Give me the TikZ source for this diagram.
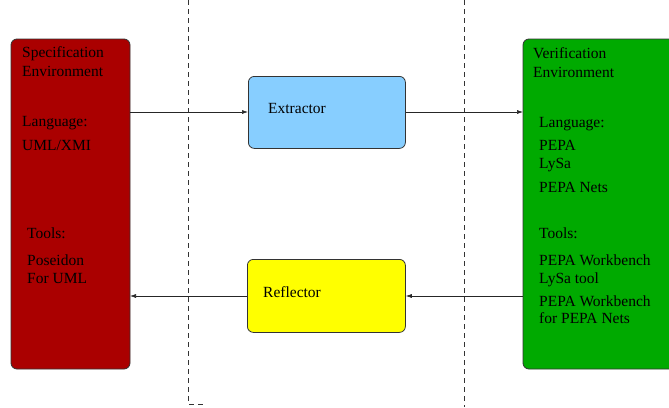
\documentclass[tikz,border=0pt]{standalone}
\usepackage{fontspec}
\setmainfont{Liberation Serif}
\usetikzlibrary{arrows.meta}
\definecolor{specred}{HTML}{AA0000}
\definecolor{vergreen}{HTML}{00AA00}
\definecolor{extblue}{HTML}{87CEFF}
\definecolor{refyel}{HTML}{FFFF00}
\begin{document}
\begin{tikzpicture}[x=1pt,y=-1pt,
  boxstyle/.style={draw=black!80, line width=0.8pt, rounded corners=6pt},
  lbl/.style={anchor=base west, inner sep=0pt, font=\fontsize{15.5}{18}\selectfont},
  sep/.style={draw=black!80, line width=0.6pt, dash pattern=on 5pt off 4pt},
  conn/.style={draw=black!85, line width=0.6pt, -{Latex[length=6pt,width=4pt]}}]
\useasboundingbox (0,0) rectangle (669,407);
% separators
\draw[sep] (188,0) -- (188,404) -- (204,404);
\draw[sep] (464,0) -- (464,407);
% boxes
\path[boxstyle, fill=specred] (11,39) rectangle (130,369);
\path[boxstyle, fill=vergreen] (523,39) rectangle (680,369);
\node[boxstyle, fill=extblue, minimum width=157pt, minimum height=72pt, anchor=north west, inner sep=0pt] (ext) at (248,76) {};
\node[boxstyle, fill=refyel, minimum width=158pt, minimum height=73pt, anchor=north west, inner sep=0pt] (ref) at (247,259) {};
\coordinate (specA) at (130,112);
\coordinate (specB) at (130,296);
\coordinate (verA) at (523,112);
\coordinate (verB) at (523,296);
% connectors
\draw[conn] (specA) -- (ext.west |- specA);
\draw[conn] (ext.east |- verA) -- (verA);
\draw[conn] (verB) -- (ref.east |- verB);
\draw[conn] (ref.west |- specB) -- (specB);
% labels
\node[lbl] (t1) at (268,113) {Extractor};
\node[lbl] (t2) at (263,297) {Reflector};
\node[lbl] (l1) at (22,57) {Specification};
\node[lbl] (l2) at (22,76) {Environment};
\node[lbl] (l3) at (22,126) {Language:};
\node[lbl] (l4) at (22,150) {UML/XMI};
\node[lbl] (l5) at (27,238) {Tools:};
\node[lbl] (l6) at (27,265) {Poseidon};
\node[lbl] (l7) at (27,283) {For UML};
\node[lbl] (r1) at (533,58) {Verification};
\node[lbl] (r2) at (533,77) {Environment};
\node[lbl] (r3) at (539,127) {Language:};
\node[lbl] (r4) at (539,150) {PEPA};
\node[lbl] (r5) at (539,168) {LySa};
\node[lbl] (r6) at (539,192) {PEPA Nets};
\node[lbl] (r7) at (539,238) {Tools:};
\node[lbl] (r8) at (539,265) {PEPA Workbench};
\node[lbl] (r9) at (539,283) {LySa tool};
\node[lbl] (r10) at (539,306) {PEPA Workbench};
\node[lbl] (r11) at (539,323) {for PEPA Nets};
\end{tikzpicture}
\end{document}
